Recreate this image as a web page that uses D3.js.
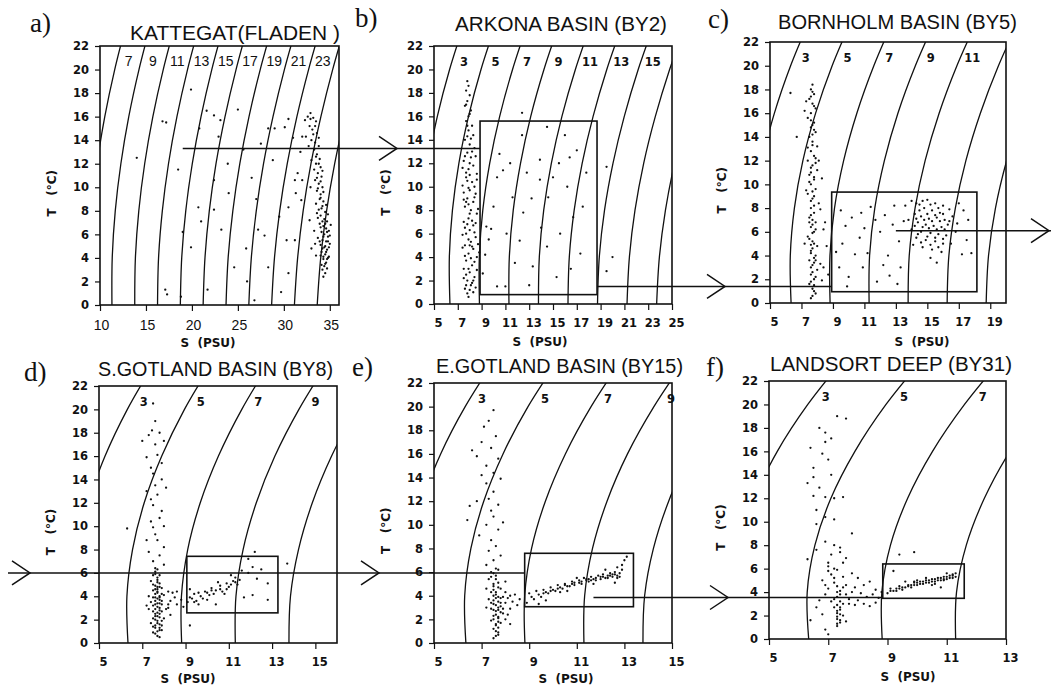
<!DOCTYPE html>
<html>
<head>
<meta charset="utf-8">
<script src="https://cdn.jsdelivr.net/npm/d3@7"></script>
<style>
  body { margin: 0; background: #fff; }
  svg { display: block; }
  .tick-label { font-family: 'DejaVu Sans', sans-serif; font-weight: bold; font-size: 11.5px; fill: #111; }
  .tick-big { font-family: 'Liberation Sans', Arial, sans-serif; font-size: 14px; fill: #111; }
  .iso-label { font-family: 'DejaVu Sans', sans-serif; font-weight: bold; font-size: 11.5px; fill: #111; }
  .iso-label-a { font-family: 'Liberation Sans', Arial, sans-serif; font-size: 14px; fill: #111; }
  .title { font-family: 'Liberation Sans', Arial, sans-serif; font-size: 20px; fill: #111; }
  .letter { font-family: 'Liberation Serif', 'Times New Roman', serif; font-size: 27px; fill: #111; }
  .axis-title { font-family: 'DejaVu Sans', sans-serif; font-weight: bold; font-size: 12px; fill: #111; }
</style>
</head>
<body>
<svg id="chart" width="1051" height="686"></svg>
<script>
// sigma-t isolines: salinity at each temperature of isoTemps
const isoTemps = [0, 4, 8, 12, 16, 20, 24];
const iso3 = [3.87, 3.78, 4.00, 4.50, 5.28, 6.31, 7.57];
const iso5 = [6.34, 6.29, 6.55, 7.09, 7.90, 8.95, 10.24];
const iso7 = [8.82, 8.81, 9.10, 9.68, 10.52, 11.60, 12.90];
const iso9 = [11.30, 11.33, 11.66, 12.27, 13.13, 14.24, 15.57];
const iso11 = [13.78, 13.85, 14.22, 14.86, 15.75, 16.88, 18.23];
const iso13 = [16.26, 16.37, 16.78, 17.45, 18.37, 19.52, 20.89];
const iso15 = [18.74, 18.89, 19.33, 20.04, 20.99, 22.16, 23.55];
const iso17 = [21.22, 21.42, 21.89, 22.62, 23.60, 24.80, 26.20];
const iso19 = [23.71, 23.94, 24.45, 25.21, 26.21, 27.43, 28.86];
const iso21 = [26.19, 26.46, 27.00, 27.79, 28.82, 30.06, 31.51];
const iso23 = [28.67, 28.98, 29.55, 30.37, 31.42, 32.69, 34.15];
const iso25 = [31.15, 31.50, 32.10, 32.95, 34.03, 35.31, 36.79];
const iso27 = [33.63, 34.01, 34.65, 35.53, 36.63, 37.93, 39.43];
const isoLevels = [3, 5, 7, 9, 11, 13, 15, 17, 19, 21, 23, 25, 27];
const isoSalinity = [iso3, iso5, iso7, iso9, iso11, iso13, iso15, iso17, iso19, iso21, iso23, iso25, iso27];

const tempTicks = [0, 2, 4, 6, 8, 10, 12, 14, 16, 18, 20, 22];
const salTicksA = [10, 15, 20, 25, 30, 35];
const salTicksB = [5, 7, 9, 11, 13, 15, 17, 19, 21, 23, 25];
const salTicksC = [5, 7, 9, 11, 13, 15, 17, 19];
const salTicksDE = [5, 7, 9, 11, 13, 15];
const salTicksF = [5, 7, 9, 11, 13];

const isoLabelsA = [7, 9, 11, 13, 15, 17, 19, 21, 23];
const isoLabelsB = [3, 5, 7, 9, 11, 13, 15];
const isoLabelsC = [3, 5, 7, 9, 11];
const isoLabelsDE = [3, 5, 7, 9];
const isoLabelsF = [3, 5, 7];

const titles = ['KATTEGAT(FLADEN )', 'ARKONA BASIN (BY2)', 'BORNHOLM BASIN (BY5)',
  'S.GOTLAND BASIN (BY8)', 'E.GOTLAND BASIN (BY15)', 'LANDSORT DEEP (BY31)'];
const letters = ['a)', 'b)', 'c)', 'd)', 'e)', 'f)'];

// selection boxes [S min, S max, T min, T max]
const boxB = [8.87, 18.7, 0.8, 15.6];
const boxC = [8.92, 18.15, 0.95, 9.35];
const boxD = [9.06, 13.27, 2.58, 7.42];
const boxE = [8.81, 13.38, 3.07, 7.59];
const boxF = [8.84, 11.59, 3.47, 6.4];

// observations [S, T]
const kattegatPts = [
  [19.9,18.3],[16.8,15.6],[17.2,15.5],[25.0,16.6],[22.4,16.1],[23.1,15.7],[21.6,16.5],[20.8,15.0],[27.5,13.7],
  [23.9,12.0],[22.4,10.6],[20.7,8.3],[21.0,7.1],[19.9,4.9],[17.1,1.3],[17.3,0.9],[18.8,0.7],[22.4,8.1],
  [23.2,6.4],[25.9,4.8],[27.2,6.4],[27.9,5.9],[28.3,3.2],[30.5,2.7],[31.2,5.5],[30.3,5.5],[24.6,3.2],
  [21.7,1.3],[26.8,0.4],[29.7,1.1],[30.1,15.1],[30.5,15.8],[28.3,15.0],[29.0,15.0],[31.2,10.6],[31.5,11.2],
  [32.0,10.6],[31.3,9.5],[30.5,8.3],[31.9,8.9],[18.5,11.5],[24.0,9.5],[26.5,10.8],[28.8,12.3],[29.5,7.5],
  [26.0,2.0],[19.0,6.2],[22.9,14.3],[25.6,13.2],[27.0,9.0],[31.8,13.0],[32.0,14.3],[14.0,12.5],
  [32.6,16.0],[32.9,15.8],[33.2,15.9],[33.5,15.6],[32.8,15.2],[33.1,14.9],[33.6,14.6],[32.4,14.3],[33.0,14.0],
  [33.4,13.8],[33.8,14.2],[32.7,13.5],[33.3,13.2],[33.6,12.8],[33.9,12.4],[33.5,12.0],[34.0,11.7],[33.7,11.2],
  [34.1,10.9],[33.4,10.6],[33.8,10.3],[34.2,10.0],[33.6,9.7],[34.0,9.4],[33.9,9.0],[34.3,8.8],[33.3,11.5],
  [32.9,10.0],[34.2,8.4],[33.8,8.1],[34.5,7.9],[34.0,7.6],[34.4,7.3],[34.7,7.1],[33.9,6.9],[34.3,6.7],
  [34.6,6.5],[34.9,6.3],[34.1,6.2],[34.4,6.0],[34.8,5.8],[33.7,5.7],[34.2,5.5],[34.6,5.4],[35.0,5.2],
  [34.0,5.1],[34.4,4.9],[34.7,4.7],[34.1,4.5],[34.5,4.3],[34.9,4.1],[34.3,3.9],[34.6,3.6],[34.4,3.3],
  [34.2,3.0],[34.5,2.7],[33.3,6.3],[33.0,4.8],[33.5,4.2],[32.8,7.2],[35.1,6.8],[34.8,4.0],[34.3,2.4],
  [33.5,12.6],[33.8,12.0],[34.2,11.4],[33.6,10.8],[34.0,10.5],[33.7,9.9],[34.3,9.6],[34.0,9.1],[33.5,8.6],
  [34.6,8.5],[34.1,8.2],[34.8,7.7],[33.7,7.4],[34.2,7.1],[34.5,6.9],[34.0,6.6],[34.7,6.2],[35.0,5.9],
  [34.3,5.8],[33.9,5.4],[34.5,5.0],[34.8,5.4],[34.2,4.8],[34.6,4.5],[34.9,4.9],[34.0,4.2],[34.3,4.1],
  [34.7,3.9],[34.5,3.5],[34.1,3.4],[34.7,3.1],[33.8,13.5],[33.2,14.5],[33.4,15.2],[32.9,16.3],[33.0,12.3],
  [33.6,7.8],[33.4,5.2],[32.3,15.7],[31.0,14.2]
];
const arkonaPts = [
  [7.8,19.0],[7.9,18.6],[7.7,18.2],[8.0,17.8],[7.8,17.3],[7.6,16.9],[8.1,16.5],[7.9,16.0],[7.7,15.6],
  [8.2,15.2],[7.9,14.8],[8.3,14.4],[7.6,14.0],[8.0,13.6],[8.4,13.3],[7.8,12.9],[8.1,12.5],[7.5,12.2],
  [8.3,11.8],[7.9,11.5],[8.6,11.1],[7.7,10.8],[8.2,10.4],[7.4,10.1],[8.0,9.7],[8.5,9.4],[7.8,9.0],
  [8.3,8.7],[7.6,8.3],[8.1,8.0],[8.6,7.7],[7.9,7.3],[7.5,7.0],[8.3,6.7],[8.0,6.3],[7.7,6.0],[8.5,5.7],
  [8.1,5.3],[7.6,5.0],[8.3,4.7],[7.9,4.3],[8.6,4.0],[7.7,3.7],[8.2,3.3],[7.5,3.0],[8.0,2.7],[8.4,2.3],
  [7.8,2.0],[8.1,1.6],[7.6,1.3],[8.3,1.0],[7.9,0.6],[8.0,12.0],[7.7,11.2],[8.4,10.0],[7.9,8.5],[8.2,7.1],
  [7.6,6.5],[8.0,5.0],[8.4,3.6],[7.7,2.5],[8.2,1.8],[7.8,15.2],[8.1,14.1],[7.5,9.5],[8.7,8.1],[8.8,4.4],
  [7.4,4.8],[8.6,2.9],[7.8,10.5],
  [7.7,17.0],[8.0,16.2],[7.8,14.3],[8.2,13.0],[7.6,12.6],[8.0,11.0],[7.9,9.9],[8.4,9.1],[7.7,8.7],
  [8.0,7.7],[7.8,6.8],[8.4,6.1],[7.9,5.5],[8.2,4.9],[7.6,4.1],[8.1,3.9],[7.9,3.0],[8.3,2.0],[7.7,1.6],
  [8.0,1.2],[7.8,0.9],[8.5,12.6],[7.4,11.6],[8.6,10.6],[7.5,8.9],[8.5,6.9],[7.4,5.9],[8.7,5.1],[7.5,2.2],
  [8.5,1.4],
  [12.4,14.4],[14.5,15.1],[16.0,14.4],[13.9,12.3],[11.4,12.0],[10.8,11.4],[12.8,11.2],[10.3,10.8],[13.9,10.6],
  [16.2,10.0],[17.8,11.2],[16.4,12.5],[17.0,13.1],[19.5,11.7],[20.0,4.0],[19.5,2.8],[9.4,6.6],[9.8,6.4],
  [11.1,6.0],[12.2,5.4],[14.5,4.9],[15.6,6.0],[16.7,7.4],[17.3,4.3],[13.3,3.2],[15.3,2.3],[10.3,1.5],
  [11.0,1.5],[13.0,1.6],[9.1,2.6],[9.3,4.2],[11.6,9.1],[13.2,9.0],[14.6,9.1],[17.5,8.3],[10.0,8.3],
  [9.6,5.5],[12.5,7.8],[15.0,10.8],[14.0,6.5],[11.8,3.5],[16.5,3.0],[10.5,12.8],[15.5,12.0],[12.4,16.3]
];
const bornholmPts = [
  [7.7,18.4],[7.6,18.0],[7.8,17.6],[7.5,17.2],[7.7,16.8],[7.9,16.4],[7.6,16.0],[7.4,15.6],[7.8,15.2],
  [7.6,14.8],[7.9,14.4],[7.5,14.0],[7.7,13.6],[8.0,13.2],[7.6,12.8],[7.8,12.4],[7.4,12.0],[7.7,11.6],
  [8.0,11.2],[7.5,10.8],[7.8,10.4],[7.6,10.0],[7.9,9.6],[7.4,9.2],[7.7,8.8],[8.1,8.4],[7.6,8.0],
  [7.8,7.6],[7.5,7.2],[7.9,6.8],[7.6,6.4],[7.8,6.0],[7.4,5.6],[7.7,5.2],[8.0,4.8],[7.6,4.4],[7.9,4.0],
  [7.5,3.6],[7.7,3.2],[8.0,2.8],[7.6,2.4],[7.8,2.0],[7.5,1.6],[7.7,1.2],[7.9,0.8],[7.6,0.4],[7.7,14.2],
  [7.6,11.0],[7.7,9.4],[7.7,7.0],[7.7,5.9],[7.6,4.9],[7.8,3.8],[7.7,2.6],[7.8,1.5],[7.3,17.0],[7.2,16.2],
  [8.3,10.5],[8.2,7.9],[8.4,6.2],[8.2,3.3],[7.3,9.5],[7.2,5.0],[6.3,17.7],[6.7,14.0],[7.4,13.1],[8.1,12.0],
  [8.3,1.9],[8.5,6.8],[8.6,4.8],[8.4,3.0],[8.7,2.4],
  [7.7,17.8],[7.6,17.4],[7.8,16.6],[7.6,15.4],[7.7,15.0],[7.8,14.6],[7.7,13.3],[7.9,12.2],[7.6,11.4],
  [7.8,10.6],[7.5,10.2],[7.8,9.0],[7.6,8.6],[7.8,8.2],[7.6,7.4],[7.7,6.6],[7.9,6.2],[7.5,5.4],[7.8,5.0],
  [7.7,4.6],[7.6,4.2],[7.8,3.4],[7.6,3.0],[7.9,2.2],[7.6,1.8],[7.8,1.0],[7.7,0.6],[7.9,11.8],[7.5,6.8],
  [7.9,3.6],
  [9.5,7.8],[10.2,7.2],[9.8,6.5],[10.8,7.6],[11.4,8.1],[12.3,7.4],[12.9,8.2],[11.0,6.3],[12.0,6.0],
  [9.6,5.0],[10.4,4.1],[11.2,4.2],[12.5,4.0],[13.2,5.2],[9.4,3.0],[10.0,2.2],[11.8,1.8],[12.6,2.3],
  [13.1,1.6],[9.9,1.4],[10.7,5.5],[11.7,7.0],[12.8,6.6],[13.5,6.9],[13.3,3.0],[12.2,3.2],[9.2,4.3],[10.9,3.0],
  [14.0,8.6],[14.5,8.3],[15.0,8.7],[15.5,8.4],[16.0,8.2],[14.8,8.0],[15.3,7.8],[15.8,7.6],[16.4,7.9],
  [14.2,7.5],[14.6,7.3],[15.1,7.1],[15.6,7.2],[16.1,7.0],[16.6,7.3],[13.8,7.0],[14.4,6.8],[14.9,6.6],
  [15.4,6.5],[15.9,6.4],[16.3,6.6],[14.0,6.2],[14.6,6.0],[15.2,5.9],[15.7,5.8],[16.2,5.7],[16.8,6.0],
  [14.3,5.5],[14.9,5.3],[15.5,5.2],[16.0,5.0],[14.7,4.7],[15.3,4.5],[15.9,4.3],[14.1,4.9],[16.5,5.0],
  [15.2,3.8],[15.6,3.4],[17.3,7.8],[17.6,7.0],[17.5,5.3],[17.8,4.2],[17.2,4.1],[16.9,6.7],[13.6,8.2],[17.0,8.4],
  [14.3,8.4],[14.7,8.6],[15.2,8.3],[15.7,8.0],[14.5,7.8],[15.0,7.5],[15.5,7.4],[16.0,7.5],[14.3,7.1],
  [14.8,7.0],[15.3,6.9],[15.8,6.9],[16.4,6.9],[14.2,6.5],[14.7,6.4],[15.1,6.3],[15.6,6.2],[16.1,6.2],
  [14.4,5.8],[15.0,5.6],[15.5,5.5],[16.0,5.4],[14.6,5.1],[15.2,4.9],[15.7,4.7]
];
const sGotlandPts = [
  [7.5,20.5],[7.45,18.2],[7.0,17.3],[8.0,17.3],[7.2,15.9],[7.7,16.1],[7.5,14.5],[7.9,14.0],[7.2,13.0],
  [7.7,12.7],[7.5,11.8],[7.9,11.3],[6.3,9.8],[7.5,9.9],[7.2,8.8],[7.7,8.8],[8.0,8.2],[7.6,19.0],[7.8,18.0],
  [7.3,17.8],[7.6,17.0],[7.9,15.4],[7.4,15.0],[7.6,13.5],[8.1,13.3],[7.4,12.3],[7.8,10.7],[7.4,10.4],
  [8.0,10.0],[7.6,9.3],[7.3,7.8],[7.8,7.5],[7.5,7.0],[8.0,6.7],[7.6,6.4],
  [7.6,6.1],[7.5,5.8],[7.7,5.6],[7.4,5.3],[7.8,5.1],[7.6,4.9],[7.9,4.7],[7.5,4.5],[7.7,4.3],[8.0,4.1],
  [7.6,3.9],[7.8,3.7],[7.4,3.5],[7.9,3.3],[7.7,3.1],[8.1,2.9],[7.5,2.7],[7.8,2.5],[7.6,2.3],[8.0,2.1],
  [7.7,1.9],[7.4,1.7],[7.9,1.5],[7.6,1.3],[7.8,1.1],[7.5,0.9],[7.7,0.6],[7.3,4.0],[7.3,2.9],[8.2,4.4],
  [8.2,3.0],[8.3,2.4],[7.7,4.8],[7.8,4.0],[7.7,3.4],[7.6,2.0],[7.8,1.6],[7.2,3.2],[7.7,5.2],[7.8,2.8],
  [7.6,5.9],[7.7,5.4],[7.5,5.0],[7.8,4.8],[7.6,4.6],[7.7,4.4],[7.9,4.2],[7.6,4.2],[7.5,3.9],[7.7,3.8],
  [7.9,3.6],[7.6,3.6],[7.8,3.4],[7.5,3.2],[7.8,3.0],[7.6,2.9],[7.9,2.7],[7.7,2.6],[7.6,2.5],[7.8,2.2],
  [7.5,2.1],[7.9,1.9],[7.7,1.7],[7.6,1.5],[7.8,1.3],[7.7,1.0],[7.6,0.8],[7.8,0.5],[7.7,4.6],[7.8,3.9],
  [7.6,3.3],[7.7,2.3],[7.5,1.4],[7.9,1.1],[7.7,6.3],[7.8,5.8],
  [8.3,3.6],[8.5,3.9],[8.6,3.3],[8.8,3.7],[8.4,4.3],[8.9,3.1],[8.6,4.4],[8.2,3.3],
  [9.1,3.5],[9.3,3.8],[9.5,3.6],[9.4,4.2],[9.7,4.0],[9.9,4.4],[10.1,4.1],[10.2,4.7],[10.4,4.5],[10.6,4.9],
  [10.7,4.4],[10.9,5.1],[11.0,4.8],[11.2,5.3],[11.4,5.0],[11.3,5.6],[9.6,3.3],[10.0,3.7],[10.5,5.2],
  [11.1,5.8],[9.2,4.6],[10.8,4.2],
  [9.2,3.9],[9.4,3.5],[9.8,3.8],[10.0,4.3],[10.3,4.2],[10.6,4.6],[10.9,4.6],[11.1,5.0],[11.3,5.2],
  [11.5,5.4],[9.6,4.3],[10.2,4.5],
  [11.9,7.2],[12.2,7.8],[12.1,6.5],[11.9,6.0],[12.3,5.5],[12.8,5.1],[12.1,4.1],[12.8,3.7],[10.4,3.3],
  [9.2,1.5],[13.7,6.8],[11.6,6.2],[12.5,6.3],[11.7,3.9]
];
const eGotlandPts = [
  [7.5,19.7],[7.1,18.3],[7.3,18.8],[7.6,17.5],[7.0,17.0],[6.6,16.3],[6.8,15.8],[7.4,16.5],[7.7,15.6],
  [7.2,15.0],[7.5,14.4],[7.8,13.9],[7.2,13.5],[7.5,12.8],[7.3,12.2],[7.7,11.7],[7.4,11.2],[7.5,10.7],
  [6.4,10.4],[7.2,10.0],[7.7,9.6],[6.9,9.1],[7.4,8.7],[7.6,8.2],[7.3,7.8],[7.8,7.4],[7.5,7.0],[7.2,6.6],
  [7.6,6.3],[6.8,12.0],[7.9,10.2],[7.0,14.2],[6.5,11.6],
  [7.4,6.0],[7.6,5.7],[7.3,5.4],[7.7,5.1],[7.5,4.8],[7.8,4.6],[7.4,4.3],[7.6,4.1],[7.9,3.9],[7.3,3.7],
  [7.7,3.5],[7.5,3.3],[7.8,3.1],[7.4,2.9],[7.6,2.7],[7.9,2.5],[7.5,2.3],[7.7,2.1],[7.4,1.9],[7.8,1.7],
  [7.6,1.5],[7.5,1.2],[7.7,0.9],[7.6,0.6],[8.1,3.8],[8.3,3.5],[8.0,4.3],[8.4,4.1],[8.2,2.9],[8.5,3.2],
  [8.1,2.4],[8.6,3.7],[7.2,3.0],[7.2,4.6],[8.0,5.2],[8.2,1.6],[7.5,4.0],[7.7,2.8],[7.5,0.4],
  [7.5,5.9],[7.6,5.4],[7.5,5.0],[7.7,4.7],[7.5,4.5],[7.6,4.3],[7.7,3.9],[7.6,3.8],[7.5,3.6],[7.8,3.4],
  [7.6,3.2],[7.7,3.0],[7.5,2.8],[7.8,2.6],[7.6,2.4],[7.7,2.2],[7.5,2.0],[7.7,1.8],[7.6,1.6],[7.7,1.3],
  [7.6,1.0],[7.7,0.7],[7.4,5.6],[7.7,6.2],[7.4,3.4],[7.8,3.8],[8.0,3.4],[8.2,4.0],[7.9,2.9],[8.0,2.0],
  [8.9,3.4],[9.0,4.2],[9.2,3.7],[9.3,4.4],[9.5,3.9],[9.6,4.5],[9.8,4.2],[9.9,4.7],[10.1,4.4],[10.2,4.9],
  [10.4,4.6],[10.5,5.0],[10.7,4.8],[10.8,5.2],[10.9,4.9],[11.1,5.3],[11.2,5.0],[11.4,5.4],[11.5,5.2],
  [11.6,5.6],[11.8,5.3],[11.9,5.7],[12.0,5.4],[12.1,5.8],[12.3,5.5],[12.4,5.9],[12.5,5.6],[12.6,6.0],
  [12.7,5.5],[12.8,5.9],[12.2,6.2],[11.7,5.0],[11.0,5.5],[10.3,4.3],[9.4,3.3],[12.9,6.6],[13.0,7.0],
  [13.1,7.3],[12.7,6.4],[12.6,5.1],[10.6,4.4],[9.7,3.6],
  [9.1,3.9],[9.4,4.1],[9.7,4.3],[10.0,4.5],[10.3,4.7],[10.6,4.8],[10.9,5.1],[11.2,5.2],[11.5,5.4],
  [11.8,5.5],[12.1,5.6],[12.4,5.7],[12.7,5.7],[12.6,5.8],[12.3,5.7],[12.0,5.6],[11.7,5.4],[11.4,5.3],
  [11.1,5.1],[10.8,5.0],[10.5,4.9],[10.2,4.6],[9.9,4.4],[9.6,4.2],[12.5,5.8],[12.8,5.6],[11.3,5.5],
  [11.6,5.3],[12.2,5.5],[12.9,6.2]
];
const landsortPts = [
  [6.7,18.0],[7.6,18.8],[6.9,17.6],[7.1,17.1],[6.4,16.3],[6.8,15.8],[7.0,15.3],[6.5,14.6],[6.5,13.8],
  [6.3,13.3],[6.7,12.9],[6.9,12.1],[6.5,12.2],[7.2,12.0],[7.5,12.1],[6.9,10.4],[7.2,10.2],[6.6,9.8],
  [7.8,9.0],[6.9,8.3],[7.2,8.0],[7.4,7.4],[6.6,7.6],[6.3,6.8],[7.0,6.5],[7.3,19.0],[6.6,11.0],[7.1,14.0],
  [6.9,16.8],
  [7.0,6.2],[7.3,5.9],[7.1,5.5],[7.5,5.3],[6.8,5.0],[7.2,4.8],[7.6,4.6],[7.0,4.3],[7.4,4.1],[7.8,4.0],
  [6.9,3.8],[7.3,3.6],[7.7,3.4],[7.1,3.2],[7.5,3.0],[7.9,2.9],[7.2,2.7],[7.4,2.5],[7.3,2.2],[7.5,2.0],
  [7.3,1.7],[7.4,1.4],[7.3,1.1],[6.9,0.8],[7.0,0.4],[6.6,2.7],[6.4,1.6],[6.7,3.3],[7.6,6.9],[7.8,5.6],
  [7.4,7.8],[6.8,2.1],[7.6,1.5],[7.0,5.8],
  [7.3,4.0],[7.4,3.8],[7.2,3.4],[7.4,3.2],[7.3,2.9],[7.4,2.7],[7.3,2.4],[7.4,2.1],[7.3,1.9],[7.4,1.6],
  [7.3,1.3],[7.2,5.2],[7.3,4.5],[7.5,4.4],[7.6,3.8],[7.2,6.0],[7.5,6.5],[7.1,7.2],[6.9,4.6],[7.7,3.0],
  [8.0,5.2],[8.2,4.6],[8.4,4.9],[8.6,4.2],[8.1,3.9],[8.3,3.6],[8.5,3.8],[8.7,3.5],[8.0,3.3],[8.2,3.0],
  [8.4,2.8],[8.6,3.1],[7.9,4.4],[8.8,4.0],
  [9.0,3.9],[9.1,4.3],[9.3,4.1],[9.4,4.5],[9.5,4.2],[9.7,4.6],[9.8,4.4],[9.9,4.8],[10.0,4.6],[10.1,4.9],
  [10.2,4.7],[10.3,5.0],[10.4,4.8],[10.5,5.1],[10.6,4.9],[10.7,5.2],[10.8,5.0],[10.9,5.3],[11.0,5.1],
  [11.1,5.4],[11.2,5.2],[11.3,5.6],[10.0,5.0],[9.6,4.9],[10.5,4.6],[11.0,5.6],[9.4,7.2],[9.9,7.4],
  [9.2,5.8],[10.8,4.4],
  [9.1,4.1],[9.3,4.3],[9.5,4.4],[9.7,4.5],[9.9,4.6],[10.1,4.7],[10.3,4.8],[10.5,4.9],[10.7,5.0],
  [10.9,5.1],[11.1,5.2],[11.3,5.3],[11.2,5.5],[11.0,5.3],[10.8,5.2],[10.6,5.1],[10.4,5.0],[10.2,4.9],
  [10.0,4.8],[9.8,4.6],[9.6,4.4],[9.4,4.3],[9.2,4.1],[10.6,4.7],[10.9,5.0],[11.2,5.4],[9.9,4.9],[10.3,5.2]
];

// panel layout in pixels
const panels = [
  { x0: 100, x1: 339, y0: 46, y1: 305, sal: [10, 36], ticks: salTicksA, isoLabels: isoLabelsA, pts: kattegatPts, box: null,
    titleX: 130, titleY: 40, titleW: 210, letterX: 30, letterY: 32, xLabelX: 208, xLabelY: 347, big: true },
  { x0: 434, x1: 672, y0: 46, y1: 304, sal: [5, 25], ticks: salTicksB, isoLabels: isoLabelsB, pts: arkonaPts, box: boxB,
    titleX: 455, titleY: 31, titleW: 212, letterX: 355, letterY: 27, xLabelX: 540, xLabelY: 346 },
  { x0: 770, x1: 1006, y0: 42, y1: 303, sal: [5, 20], ticks: salTicksC, isoLabels: isoLabelsC, pts: bornholmPts, box: boxC,
    titleX: 778, titleY: 29, titleW: 239, letterX: 708, letterY: 28, xLabelX: 922, xLabelY: 346 },
  { x0: 99, x1: 337, y0: 386, y1: 643, sal: [5, 16], ticks: salTicksDE, isoLabels: isoLabelsDE, pts: sGotlandPts, box: boxD,
    titleX: 98, titleY: 376, titleW: 235, letterX: 24, letterY: 381, xLabelX: 188, xLabelY: 683 },
  { x0: 434, x1: 672, y0: 383, y1: 643, sal: [5, 15], ticks: salTicksDE, isoLabels: isoLabelsDE, pts: eGotlandPts, box: boxE,
    titleX: 436, titleY: 373, titleW: 247, letterX: 352, letterY: 376, xLabelX: 566, xLabelY: 683 },
  { x0: 769, x1: 1006, y0: 381, y1: 639, sal: [5, 13], ticks: salTicksF, isoLabels: isoLabelsF, pts: landsortPts, box: boxF,
    titleX: 770, titleY: 371, titleW: 242, letterX: 706, letterY: 376, xLabelX: 908, xLabelY: 681 }
];

const svg = d3.select('#chart');

panels.forEach(function(p, i) {
  p.x = d3.scaleLinear().domain(p.sal).range([p.x0, p.x1]);
  p.y = d3.scaleLinear().domain([0, 22]).range([p.y1, p.y0]);

  let g = svg.append('g');

  g.append('clipPath').attr('id', 'clip' + i)
    .append('rect').attr('x', p.x0).attr('y', p.y0).attr('width', p.x1 - p.x0).attr('height', p.y1 - p.y0);

  // density isolines
  let isoLine = d3.line()
    .x(function(d) { return p.x(d[0]); })
    .y(function(d) { return p.y(d[1]); })
    .curve(d3.curveCatmullRom);

  g.append('g').attr('clip-path', 'url(#clip' + i + ')')
    .selectAll('path')
    .data(isoSalinity)
    .join('path')
    .attr('d', function(sal) { return isoLine(sal.map(function(s, k) { return [s, isoTemps[k]]; })); })
    .attr('fill', 'none')
    .attr('stroke', '#111')
    .attr('stroke-width', 1.3);

  // isoline labels near the top
  let labelY = p.y0 + 20;
  let labelT = p.y.invert(labelY - 4);
  g.selectAll('text.iso')
    .data(p.isoLabels)
    .join('text')
    .attr('class', p.big ? 'iso-label-a' : 'iso-label')
    .attr('text-anchor', 'middle')
    .attr('x', function(lev) {
      let sal = isoSalinity[isoLevels.indexOf(lev)];
      let s = d3.scaleLinear().domain(isoTemps).range(sal)(labelT);
      return p.x(s) + 12;
    })
    .attr('y', labelY)
    .text(function(d) { return d; });

  // scatter
  g.append('g').selectAll('circle')
    .data(p.pts)
    .join('circle')
    .attr('cx', function(d) { return p.x(d[0]); })
    .attr('cy', function(d) { return p.y(d[1]); })
    .attr('r', 1.15)
    .attr('fill', '#111');

  if (p.box) {
    g.append('rect')
      .attr('x', p.x(p.box[0]))
      .attr('y', p.y(p.box[3]))
      .attr('width', p.x(p.box[1]) - p.x(p.box[0]))
      .attr('height', p.y(p.box[2]) - p.y(p.box[3]))
      .attr('fill', 'none')
      .attr('stroke', '#111')
      .attr('stroke-width', 1.6);
  }

  // frame
  g.append('rect')
    .attr('x', p.x0).attr('y', p.y0)
    .attr('width', p.x1 - p.x0).attr('height', p.y1 - p.y0)
    .attr('fill', 'none').attr('stroke', '#111').attr('stroke-width', 1.6);

  // y axis
  let yAxis = d3.axisLeft(p.y).tickValues(tempTicks).tickSize(5).tickPadding(6);
  let ya = g.append('g').attr('transform', 'translate(' + p.x0 + ',0)').call(yAxis);
  ya.select('.domain').remove();
  ya.selectAll('line').attr('stroke', '#111').attr('stroke-width', 1.2);
  ya.selectAll('text').attr('class', 'tick-label').attr('font-family', null).attr('font-size', null);

  // x axis
  let xAxis = d3.axisBottom(p.x).tickValues(p.ticks).tickSize(6).tickPadding(p.big ? 9 : 9);
  let xa = g.append('g').attr('transform', 'translate(0,' + p.y1 + ')').call(xAxis);
  xa.select('.domain').remove();
  xa.selectAll('line').attr('stroke', '#111').attr('stroke-width', 1.2);
  xa.selectAll('text').attr('class', p.big ? 'tick-big' : 'tick-label').attr('font-family', null).attr('font-size', null)
    .attr('dx', p.big ? 1 : 4);

  // titles
  g.append('text').attr('class', 'title')
    .attr('x', p.titleX).attr('y', p.titleY)
    .attr('textLength', p.titleW).attr('lengthAdjust', 'spacingAndGlyphs')
    .text(titles[i]);
  g.append('text').attr('class', 'letter')
    .attr('x', p.letterX).attr('y', p.letterY)
    .text(letters[i]);

  g.append('text').attr('class', 'axis-title')
    .attr('text-anchor', 'middle')
    .attr('transform', 'translate(' + (p.x0 - 44) + ',' + p.y(9.5) + ') rotate(-90)')
    .attr('xml:space', 'preserve')
    .text('T   (°C)');
  g.append('text').attr('class', 'axis-title')
    .attr('text-anchor', 'middle')
    .attr('x', p.xLabelX).attr('y', p.xLabelY)
    .attr('xml:space', 'preserve')
    .text('S  (PSU)');
});

// connecting arrows
const A = panels[0], B = panels[1], C = panels[2], D = panels[3], E = panels[4], F = panels[5];
const arrows = [
  { y: A.y(13.3), from: A.x(19.0), to: B.x(boxB[0]), tips: [B.x0 - 37] },
  { y: B.y(1.5), from: B.x(boxB[1]), to: C.x(boxC[0]), tips: [C.x0 - 45] },
  { y: C.y(6.1), from: C.x(13.0), to: 1051, tips: [1049] },
  { y: D.y(6.0), from: 8, to: E.x(boxE[0]), tips: [D.x0 - 69, E.x0 - 55] },
  { y: E.y(3.85), from: E.x(11.7), to: F.x(boxF[0]), tips: [F.x0 - 41] }
];

let ag = svg.append('g').attr('stroke', '#111').attr('fill', 'none').attr('stroke-width', 1.5);
arrows.forEach(function(a) {
  ag.append('line').attr('x1', a.from).attr('x2', a.to).attr('y1', a.y).attr('y2', a.y);
  a.tips.forEach(function(t) {
    ag.append('path').attr('d', 'M' + (t - 18) + ',' + (a.y - 12) + 'L' + t + ',' + a.y + 'L' + (t - 18) + ',' + (a.y + 12));
  });
});
</script>
</body>
</html>
